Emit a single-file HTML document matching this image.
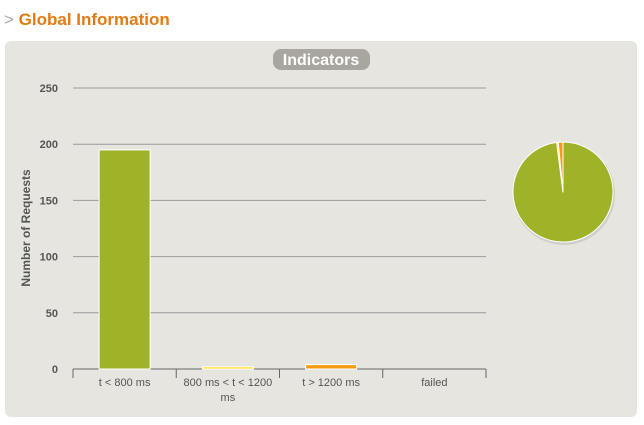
<!DOCTYPE html>
<html><head><meta charset="utf-8"><style>
body{margin:0;width:644px;height:425px;background:#fff;font-family:"Liberation Sans",sans-serif;overflow:hidden;position:relative}
#hdr{position:absolute;left:4px;top:10px;font-size:17px;font-weight:bold;color:#e37b12}
#hdr span{color:#aaa;font-weight:normal}
#panel{position:absolute;left:5px;top:41px;width:632px;height:376px;background:#e6e5e0;border-radius:6px}
</style></head><body>
<div id="hdr"><span>&gt;</span> Global Information</div>
<div id="panel"></div>
<svg id="c" width="644" height="425" style="position:absolute;left:0;top:0"></svg>
<script>
const categories=["t < 800 ms","800 ms < t < 1200 ms","t > 1200 ms","failed"];
const values=[194,1,3,0];
const colors=["#a0b228","#ffdd00","#f39c12","#c0392b"];
const ticks=[0,50,100,150,200,250];
const NS="http://www.w3.org/2000/svg";
const svg=document.getElementById('c');
function mk(t,a,txt){const e=document.createElementNS(NS,t);for(const k in a)e.setAttribute(k,a[k]);if(txt!=null)e.textContent=txt;svg.appendChild(e);return e;}
const x0=73,x1=486,y0=369,yTop=88,maxV=250;
const y=v=>y0-(v/maxV)*(y0-yTop);
const bw=(x1-x0)/categories.length;
let e=mk('rect',{x:273,y:49,width:97,height:21,rx:8,fill:'#a8a69e'});

e=mk('text',{x:321,y:65,'text-anchor':'middle','font-size':16,'font-weight':'bold',fill:'#fff'},'Indicators');

ticks.forEach(t=>{
 e=mk('line',{x1:x0,x2:x1,y1:y(t),y2:y(t),stroke:t===0?'#666':'#9a9a9a','stroke-width':1});
 
 e=mk('text',{x:58,y:y(t)+4,'text-anchor':'end','font-size':11,'font-weight':'bold',fill:'#555'},t);
 
});
e=mk('text',{x:30,y:228,'text-anchor':'middle','font-size':12,'font-weight':'bold',fill:'#555',transform:'rotate(-90 30 228)'},'Number of Requests');

for(let i=0;i<=categories.length;i++){
 e=mk('line',{x1:x0+i*bw,x2:x0+i*bw,y1:y0,y2:y0+9,stroke:'#666'});
 
}
categories.forEach((c,i)=>{
 const cx=x0+bw*(i+0.5);
 const h=y0-y(values[i]);
 e=mk('rect',{x:cx-25.5,y:y(values[i])-1,width:51,height:h+1,fill:colors[i],stroke:'#fff','stroke-width':1,visibility:values[i]>0?'visible':'hidden'});
 
 if(c==="800 ms < t < 1200 ms"){
  e=mk('text',{x:cx,y:386,'text-anchor':'middle','font-size':11,fill:'#555'},'800 ms < t < 1200');
  
  e=mk('text',{x:cx,y:401,'text-anchor':'middle','font-size':11,fill:'#555'},'ms');
  
 }else{
  e=mk('text',{x:cx,y:386,'text-anchor':'middle','font-size':11,fill:'#555'},c);
  
 }
});
const pcx=563,pcy=192,r=50;
const total=values.reduce((a,b)=>a+b,0);
e=mk('circle',{cx:pcx+1,cy:pcy+2,r:r+1,fill:'#d0cfca'});

let acc=0;
values.forEach((v,i)=>{
 if(v<=0)return;
 const a0=acc/total*2*Math.PI,a1=(acc+v)/total*2*Math.PI;acc+=v;
 const p=a=>[pcx+r*Math.sin(a),pcy-r*Math.cos(a)];
 const [sx,sy]=p(a0),[ex,ey]=p(a1);
 const large=(a1-a0)>Math.PI?1:0;
 e=mk('path',{d:`M${pcx},${pcy}L${sx},${sy}A${r},${r} 0 ${large} 1 ${ex},${ey}Z`,fill:colors[i],stroke:'#fff','stroke-width':1,'stroke-linejoin':'round'});
 
});
</script>
</body></html>
